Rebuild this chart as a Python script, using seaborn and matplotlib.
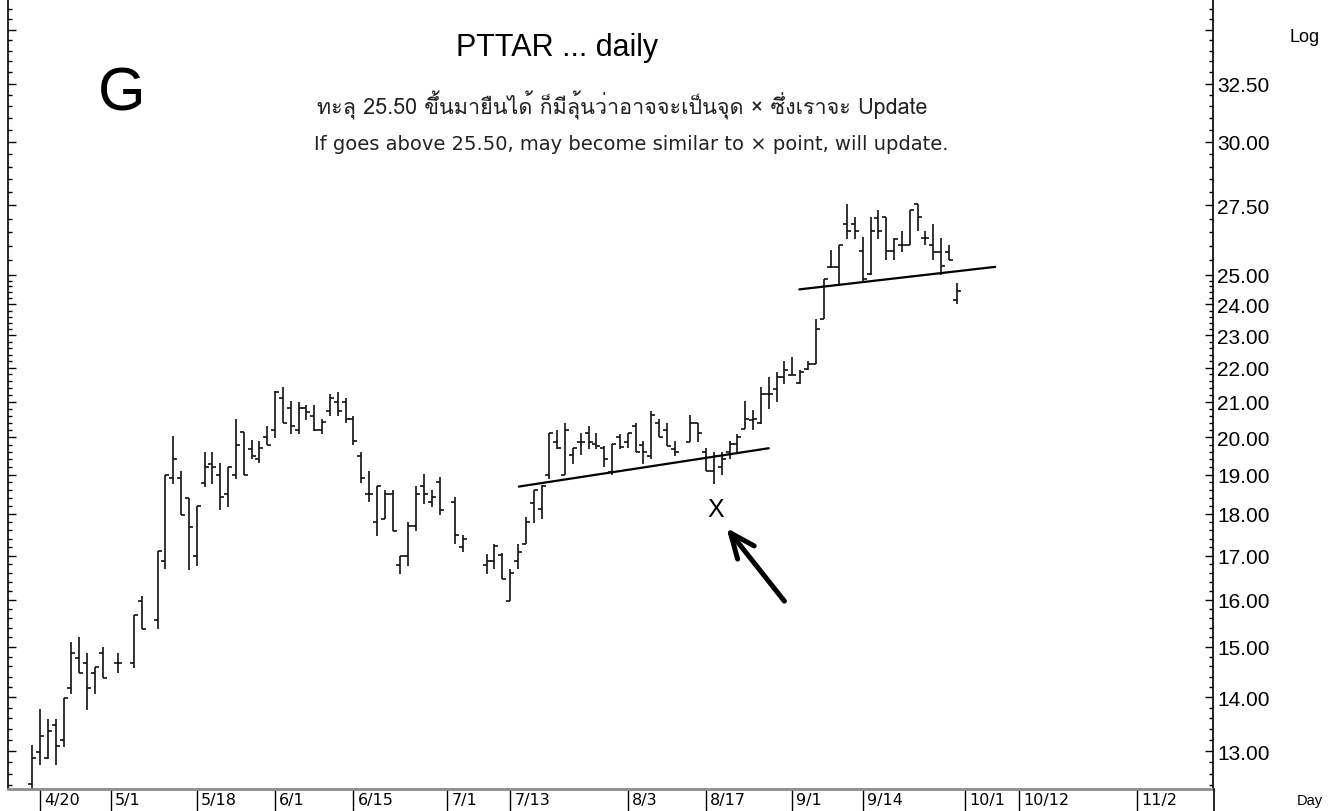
import matplotlib
matplotlib.use("Agg")
import matplotlib.pyplot as plt
import matplotlib.ticker as mticker
import matplotlib.transforms as mtransforms
from matplotlib import font_manager
from matplotlib.ft2font import FT2Font
from matplotlib.lines import Line2D
import pandas as pd
import seaborn as sns

sns.set_theme(style="white")

# trading-day slot (weekdays counted from 4/17) and OHLC
day = [0, 1, 2, 3, 4, 5, 6, 7, 8, 9, 11, 13, 14, 16, 17, 18, 19, 20, 21, 22,
       23, 24, 25, 26, 27, 28, 29, 30, 31, 32, 33, 34, 35, 36, 37, 38, 39, 40, 41, 42,
       43, 44, 45, 46, 47, 48, 49, 50, 51, 52, 54, 55, 58, 59, 60, 61, 62, 63, 64, 65,
       66, 67, 68, 69, 70, 71, 72, 73, 74, 75, 76, 77, 78, 79, 80, 81, 82, 84, 85, 86,
       87, 88, 89, 90, 91, 92, 93, 94, 95, 96, 97, 98, 99, 100, 101, 102, 103, 104, 105, 106,
       107, 108, 109, 110, 111, 112, 113, 114, 115, 116, 117, 118]
opn = [12.42, 12.99, 12.87, 13.47, 13.19, 14.18, 14.78, 14.68, 14.47, 14.87, 14.68, 14.68, 15.98, 15.57, 16.88, 18.91, 18.91, 18.41, 17.00, 18.79,
       19.28, 18.99, 18.51, 18.99, 20.14, 19.68, 19.40, 20.01, 20.20, 21.10, 20.82, 20.21, 20.82, 20.60, 20.21, 20.72, 21.00, 21.00, 20.51, 19.49,
       18.51, 17.80, 17.88, 18.51, 16.78, 17.00, 17.70, 18.70, 18.30, 18.81, 18.30, 17.20, 16.79, 16.88, 17.01, 15.98, 16.88, 17.27, 18.28, 18.13,
       18.99, 19.88, 18.99, 19.51, 19.88, 20.11, 19.82, 19.70, 19.08, 20.01, 19.88, 20.30, 19.79, 19.49, 20.40, 20.21, 19.68, 19.88, 20.40, 19.59,
       19.10, 19.20, 19.59, 19.82, 20.23, 20.49, 20.39, 21.22, 21.37, 21.72, 21.79, 21.55, 21.97, 22.12, 23.53, 25.27, 25.27, 26.81, 26.81, 25.81,
       25.03, 27.02, 27.06, 25.81, 26.03, 26.03, 27.56, 26.30, 26.03, 25.79, 25.79, 24.13]
high = [13.10, 13.78, 13.59, 13.58, 13.98, 15.09, 15.20, 14.88, 14.59, 14.99, 14.88, 15.67, 16.09, 17.10, 18.99, 20.03, 19.10, 18.41, 18.21, 19.61,
        19.61, 19.31, 19.21, 20.51, 20.14, 19.93, 19.91, 20.32, 21.32, 21.42, 21.03, 21.00, 20.91, 20.91, 20.51, 21.22, 21.29, 21.10, 20.60, 19.61,
        19.10, 18.70, 18.59, 18.59, 17.00, 17.80, 18.70, 19.02, 18.61, 18.93, 18.42, 17.49, 17.04, 17.27, 17.06, 16.69, 17.27, 17.92, 18.59, 18.73,
        20.11, 20.21, 20.40, 19.70, 20.11, 20.32, 20.11, 19.77, 19.82, 20.09, 20.12, 20.40, 19.91, 20.72, 20.51, 20.40, 19.91, 20.63, 20.40, 19.70,
        19.59, 19.59, 19.91, 20.09, 21.03, 20.75, 21.42, 21.72, 21.87, 22.22, 22.32, 21.92, 22.22, 23.53, 24.86, 25.85, 26.05, 27.56, 27.06, 26.33,
        27.06, 27.31, 27.06, 26.30, 26.53, 27.31, 27.56, 26.53, 26.81, 26.30, 26.03, 24.72]
low = [12.25, 12.76, 12.86, 12.76, 13.07, 14.05, 14.47, 13.76, 14.05, 14.38, 14.47, 14.56, 15.37, 15.37, 16.69, 18.76, 17.98, 16.67, 16.76, 18.67,
       18.76, 18.09, 18.17, 18.89, 18.99, 19.40, 19.31, 19.79, 19.98, 20.40, 20.09, 20.09, 20.49, 20.18, 20.09, 20.60, 20.60, 20.40, 19.79, 18.79,
       18.30, 17.47, 17.88, 17.59, 16.58, 16.76, 17.59, 18.25, 18.17, 17.98, 17.27, 17.09, 16.58, 16.69, 16.46, 15.98, 16.69, 17.27, 17.78, 17.88,
       18.89, 19.68, 18.99, 19.28, 19.51, 19.68, 19.68, 19.20, 18.99, 19.68, 19.70, 19.59, 19.28, 19.40, 20.01, 19.77, 19.49, 19.88, 19.88, 19.10,
       18.76, 18.99, 19.40, 19.59, 20.23, 20.21, 20.37, 20.80, 20.98, 21.52, 21.79, 21.52, 21.92, 22.12, 23.53, 25.23, 24.63, 26.27, 26.27, 24.75,
       25.00, 26.27, 25.51, 25.51, 25.79, 26.03, 26.53, 26.03, 25.51, 25.00, 25.51, 24.02]
close = [12.87, 13.28, 13.37, 13.09, 13.98, 14.87, 14.47, 14.18, 14.59, 14.38, 14.68, 15.67, 15.37, 17.10, 18.99, 19.40, 17.98, 17.69, 18.21, 19.20,
         19.20, 18.42, 19.21, 19.79, 18.99, 19.50, 19.70, 19.79, 21.29, 20.40, 20.32, 20.82, 20.71, 20.21, 20.42, 21.10, 20.72, 20.51, 19.91, 18.91,
         18.51, 18.70, 18.51, 17.59, 17.00, 17.70, 18.51, 18.51, 18.42, 18.11, 17.49, 17.39, 16.88, 17.23, 16.46, 16.61, 17.08, 17.81, 18.59, 18.70,
         20.11, 19.70, 20.21, 19.70, 19.88, 19.88, 19.77, 19.40, 19.82, 19.74, 20.11, 19.59, 19.59, 20.63, 20.01, 19.77, 19.61, 20.40, 20.11, 19.10,
         19.49, 19.40, 19.82, 20.01, 20.51, 20.51, 21.22, 21.22, 21.72, 21.92, 21.79, 21.87, 22.12, 23.21, 24.84, 25.27, 26.03, 26.53, 26.53, 24.86,
         26.53, 26.53, 25.81, 26.27, 26.03, 27.31, 27.06, 26.30, 25.79, 25.30, 25.51, 24.44]

tick_days = [1, 10, 21, 31, 41, 53, 61, 76, 86, 97, 106, 119, 126, 141]
tick_labels = ['4/20', '5/1', '5/18', '6/1', '6/15', '7/1', '7/13', '8/3', '8/17',
               '9/1', '9/14', '10/1', '10/12', '11/2']

price_ticks = [13, 14, 15, 16, 17, 18, 19, 20, 21, 22, 23, 24, 25, 27.5, 30, 32.5, 35]
price_labels = ['13.00', '14.00', '15.00', '16.00', '17.00', '18.00', '19.00', '20.00',
                '21.00', '22.00', '23.00', '24.00', '25.00', '27.50', '30.00', '32.50', '']

# hand drawn support lines and the "X" marker
line1_day = [62.1, 94.0]
line1_price = [18.69, 19.70]
line2_day = [97.9, 122.9]
line2_price = [24.50, 25.27]
x_mark_day, x_mark_price = 87.2, 18.13
arrow_tail = (96.0, 15.97)
arrow_tip = (88.6, 17.66)

df = pd.DataFrame({'day': day, 'open': opn, 'high': high, 'low': low, 'close': close})


def thai_font():
    for f in font_manager.fontManager.ttflist:
        try:
            if ord('ท') in FT2Font(f.fname).get_charmap():
                return f.name
        except Exception:
            pass
    return 'DejaVu Sans'


plt.rcParams['font.family'] = ['Liberation Sans', 'DejaVu Sans']
thai = [thai_font(), 'DejaVu Sans']

W, H = 1329, 812
fig = plt.figure(figsize=(W / 100, H / 100), dpi=100)
ax = fig.add_axes([8 / W, 22 / H, (1213 - 8) / W, 790 / H])

ink = '#111111'
ax.vlines(df['day'], df['low'], df['high'], color=ink, lw=1.2, zorder=2)
sns.scatterplot(data=df, x='day', y='open', marker=0, s=8, color=ink, linewidth=1.2, ax=ax, zorder=3)
sns.scatterplot(data=df, x='day', y='close', marker=1, s=8, color=ink, linewidth=1.2, ax=ax, zorder=3)

ax.plot(line1_day, line1_price, color='black', lw=1.6)
ax.plot(line2_day, line2_price, color='black', lw=1.6)
ax.text(x_mark_day, x_mark_price, 'X', fontsize=18, ha='center', va='center', color='black')
ax.annotate('', xy=arrow_tip, xytext=arrow_tail,
            arrowprops=dict(arrowstyle='->,head_length=0.9,head_width=0.38', lw=3.6,
                            color='black', mutation_scale=20, shrinkA=0, shrinkB=0))

ax.set_yscale('log')
ax.set_ylim(12.34, 36.5)
ax.set_xlim(-3.09, 150.7)
ax.set_xlabel('')
ax.set_ylabel('')

ax.yaxis.set_major_locator(mticker.FixedLocator(price_ticks))
ax.yaxis.set_major_formatter(mticker.FixedFormatter(price_labels))
minor = [12.4 + 0.2 * i for i in range(63)] + [25.5 + 0.5 * i for i in range(22)]
ax.yaxis.set_minor_locator(mticker.FixedLocator(minor))
ax.yaxis.set_minor_formatter(mticker.NullFormatter())
ax.tick_params(axis='y', which='both', direction='in', left=True, right=True,
               labelleft=False, labelright=True, color='black', width=1)
ax.tick_params(axis='y', which='major', length=6, labelsize=15, pad=3, labelcolor='black')
ax.tick_params(axis='y', which='minor', length=3)

ax.set_xticks(tick_days)
ax.set_xticklabels(tick_labels)
ax.tick_params(axis='x', which='major', direction='out', length=16, width=1, color='black',
               bottom=True, pad=-13.5, labelsize=11.5, labelcolor='black')
shift = mtransforms.ScaledTranslation(3 / 72, 0, fig.dpi_scale_trans)
for lab in ax.get_xticklabels():
    lab.set_horizontalalignment('left')
    lab.set_family(['DejaVu Sans'])
    lab.set_transform(lab.get_transform() + shift)

for side in ['left', 'right']:
    ax.spines[side].set_color('black')
    ax.spines[side].set_linewidth(1.2)
ax.spines['top'].set_visible(False)
ax.spines['bottom'].set_color('#8c8c8c')
ax.spines['bottom'].set_linewidth(2)
fig.add_artist(Line2D([1213.5 / W, 1213.5 / W], [0, 22 / H], transform=fig.transFigure,
                      color='black', lw=1.2))

ax.text(0.4557, 0.939, 'PTTAR ... daily', transform=ax.transAxes, ha='center', va='center',
        fontsize=22, color='black')
ax.text(0.094, 0.880, 'G', transform=ax.transAxes, ha='center', va='center',
        fontsize=44, color='black')
ax.text(0.510, 0.867, 'ทะลุ 25.50 ขึ้นมายืนได้ ก็มีลุ้นว่าอาจจะเป็นจุด × ซึ่งเราจะ Update',
        transform=ax.transAxes, ha='center', va='center', fontsize=15.5, color='#222222',
        family=thai)
ax.text(0.517, 0.8165, 'If goes above 25.50, may become similar to × point, will update.',
        transform=ax.transAxes, ha='center', va='center', fontsize=14, color='#222222',
        family=['DejaVu Sans'])
fig.text(1305 / W, 1 - 37 / H, 'Log', ha='center', va='center', fontsize=13, color='black')
fig.text(1310 / W, 1 - 801 / H, 'Day', ha='center', va='center', fontsize=10.5, color='black')

fig.savefig('out.png', dpi=100, facecolor='white')
